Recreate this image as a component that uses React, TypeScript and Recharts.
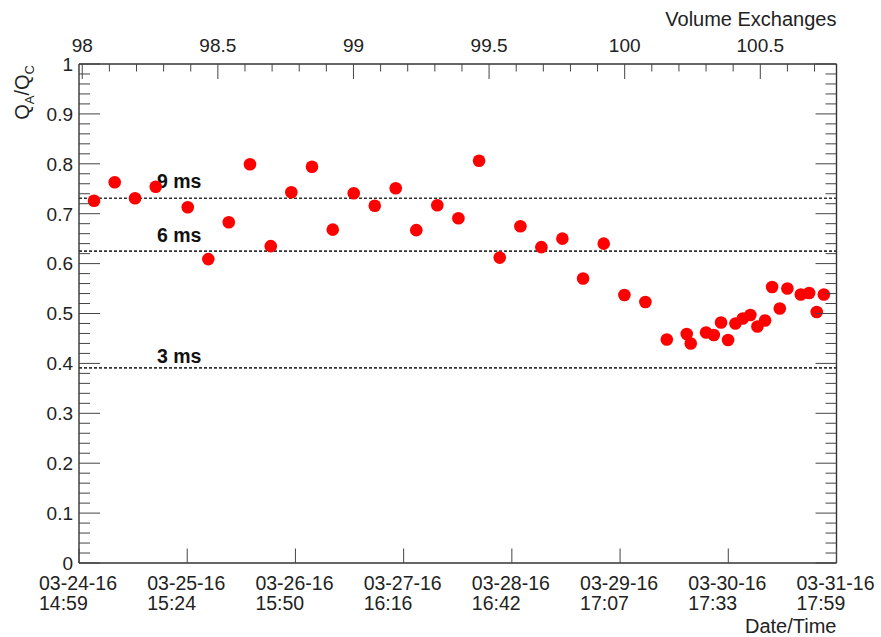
import React from 'react';
import { ScatterChart, Scatter, XAxis, YAxis, ReferenceLine, Label } from 'recharts';

// ---- data ----
// elapsed time in days (of 24h25m43s) since 03-24-16 14:59
const elapsedDays = [
  0.139, 0.330, 0.518, 0.709, 1.005, 1.195, 1.384, 1.580, 1.772, 1.962,
  2.153, 2.345, 2.539, 2.733, 2.927, 3.117, 3.311, 3.506, 3.697, 3.888,
  4.079, 4.273, 4.467, 4.658, 4.849, 5.040, 5.234, 5.432, 5.616, 5.653,
  5.795, 5.866, 5.933, 5.998, 6.066, 6.134, 6.204, 6.269, 6.340, 6.405,
  6.476, 6.546, 6.670, 6.747, 6.817, 6.883,
];
const ratioValues = [
  0.726, 0.763, 0.731, 0.754, 0.713, 0.609, 0.683, 0.799, 0.635, 0.743,
  0.794, 0.668, 0.741, 0.716, 0.751, 0.667, 0.717, 0.691, 0.806, 0.612,
  0.675, 0.633, 0.650, 0.570, 0.640, 0.537, 0.523, 0.448, 0.459, 0.440,
  0.462, 0.457, 0.482, 0.447, 0.480, 0.490, 0.497, 0.474, 0.486, 0.553,
  0.510, 0.550, 0.538, 0.541, 0.503, 0.538,
];

const dateTicks = [0, 1, 2, 3, 4, 5, 6, 7];
const dateLabels = ['03-24-16', '03-25-16', '03-26-16', '03-27-16', '03-28-16', '03-29-16', '03-30-16', '03-31-16'];
const timeLabels = ['14:59', '15:24', '15:50', '16:16', '16:42', '17:07', '17:33', '17:59'];

// volume exchanges at the start and the end of the time axis
const volumeDomain = [97.988, 100.781];
const volumeMajorTicks = [98, 98.5, 99, 99.5, 100, 100.5];
const volumeTickLabels = ['98', '98.5', '99', '99.5', '100', '100.5'];

const ratioMajorTicks = [0, 0.1, 0.2, 0.3, 0.4, 0.5, 0.6, 0.7, 0.8, 0.9, 1];
const ratioTickLabels = ['0', '0.1', '0.2', '0.3', '0.4', '0.5', '0.6', '0.7', '0.8', '0.9', '1'];

const thresholdValues = [0.731, 0.625, 0.391];
const thresholdLabels = ['9 ms', '6 ms', '3 ms'];

// ---- derived ----
const tSpan = dateTicks[dateTicks.length - 1] - dateTicks[0];
const toVolume = (t: number) =>
  volumeDomain[0] + ((t - dateTicks[0]) / tSpan) * (volumeDomain[1] - volumeDomain[0]);
const points = elapsedDays.map((t, i) => ({ t, r: ratioValues[i], v: toVolume(t) }));
const volumeAllTicks: number[] = [];
for (let i = 980; i <= 1007; i++) volumeAllTicks.push(i / 10);
const ratioAllTicks: number[] = [];
for (let i = 0; i <= 50; i++) ratioAllTicks.push(i / 50);

// ---- styles ----
const FONT = '"Liberation Sans", Arial, Helvetica, sans-serif';
const TEXT = '#222';
const FRAME = '#333';
const TICK = '#444';
const labelGap = [10, 9, 5];

const findIndex = (arr: number[], v: number) => arr.findIndex((a) => Math.abs(a - v) < 1e-6);

const LeftTick = (props: any) => {
  const { x, y, payload } = props;
  const idx = findIndex(ratioMajorTicks, payload.value);
  const major = idx >= 0;
  return (
    <g>
      <line x1={x} y1={y} x2={x + (major ? 21 : 11)} y2={y} stroke={TICK} strokeWidth={1} />
      {major && (
        <text x={x - 6} y={y} dy="0.36em" textAnchor="end" fontSize={19} fontFamily={FONT} fill={TEXT}>
          {ratioTickLabels[idx]}
        </text>
      )}
    </g>
  );
};

const RightTick = (props: any) => {
  const { x, y, payload } = props;
  const major = findIndex(ratioMajorTicks, payload.value) >= 0;
  return <line x1={x} y1={y} x2={x - (major ? 21 : 11)} y2={y} stroke={TICK} strokeWidth={1} />;
};

const TopTick = (props: any) => {
  const { x, y, payload } = props;
  const idx = findIndex(volumeMajorTicks, payload.value);
  const major = idx >= 0;
  return (
    <g>
      <line x1={x} y1={y} x2={x} y2={y + (major ? 15 : 7.5)} stroke={TICK} strokeWidth={1} />
      {major && (
        <text x={x} y={y - 12} textAnchor="middle" fontSize={19} fontFamily={FONT} fill={TEXT}>
          {volumeTickLabels[idx]}
        </text>
      )}
    </g>
  );
};

const BottomTick = (props: any) => {
  const { x, y, payload } = props;
  const idx = findIndex(dateTicks, payload.value);
  return (
    <g>
      <line x1={x} y1={y} x2={x} y2={y - 14.5} stroke={TICK} strokeWidth={1} />
      <text x={x - 40} y={y + 27} textAnchor="start" fontSize={19.5} fontFamily={FONT} fill={TEXT}>
        {dateLabels[idx]}
      </text>
      <text x={x - 40} y={y + 47} textAnchor="start" fontSize={19.5} fontFamily={FONT} fill={TEXT}>
        {timeLabels[idx]}
      </text>
    </g>
  );
};

const Dot = (p: any) => <circle cx={p.cx} cy={p.cy} r={6.3} fill="#ff0000" />;
const NoDot = () => <g />;

export default function App() {
  return (
    <div style={{ position: 'absolute', left: 0, top: 0, width: 881, height: 637, background: '#fff' }}>
      <ScatterChart width={881} height={637} margin={{ top: 0, right: 0, bottom: 0, left: 0 }}>
        <XAxis
          xAxisId="bottom"
          dataKey="t"
          type="number"
          orientation="bottom"
          domain={[dateTicks[0], dateTicks[dateTicks.length - 1]]}
          allowDataOverflow
          ticks={dateTicks}
          interval={0}
          height={74}
          tickSize={0}
          tickMargin={0}
          tickLine={false}
          axisLine={{ stroke: FRAME, strokeWidth: 1.4 }}
          tick={<BottomTick />}
        >
          <Label
            content={(p: any) => (
              <text x={p.viewBox.x + p.viewBox.width} y={p.viewBox.y + 70} textAnchor="end" fontSize={20} fontFamily={FONT} fill={TEXT}>
                Date/Time
              </text>
            )}
          />
        </XAxis>
        <XAxis
          xAxisId="top"
          dataKey="v"
          type="number"
          orientation="top"
          domain={volumeDomain}
          allowDataOverflow
          ticks={volumeAllTicks}
          interval={0}
          height={64}
          tickSize={0}
          tickMargin={0}
          tickLine={false}
          axisLine={{ stroke: FRAME, strokeWidth: 1.4 }}
          tick={<TopTick />}
        >
          <Label
            content={(p: any) => (
              <text x={p.viewBox.x + p.viewBox.width} y={26} textAnchor="end" fontSize={20} fontFamily={FONT} fill={TEXT}>
                Volume Exchanges
              </text>
            )}
          />
        </XAxis>
        <YAxis
          yAxisId="left"
          dataKey="r"
          type="number"
          orientation="left"
          domain={[0, 1]}
          allowDataOverflow
          ticks={ratioAllTicks}
          interval={0}
          width={79}
          tickSize={0}
          tickMargin={0}
          tickLine={false}
          axisLine={{ stroke: FRAME, strokeWidth: 1.4 }}
          tick={<LeftTick />}
        >
          <Label
            content={(p: any) => (
              <text
                transform={`translate(${p.viewBox.x + 29},${p.viewBox.y + 1}) rotate(-90)`}
                textAnchor="end"
                fontSize={20}
                fontFamily={FONT}
                fill={TEXT}
              >
                Q<tspan fontSize={13} dy={5}>A</tspan>
                <tspan dy={-5}>/Q</tspan>
                <tspan fontSize={13} dy={5}>C</tspan>
              </text>
            )}
          />
        </YAxis>
        <YAxis
          yAxisId="right"
          dataKey="r"
          type="number"
          orientation="right"
          domain={[0, 1]}
          allowDataOverflow
          ticks={ratioAllTicks}
          interval={0}
          width={44.5}
          tickSize={0}
          tickMargin={0}
          tickLine={false}
          axisLine={{ stroke: FRAME, strokeWidth: 1.4 }}
          tick={<RightTick />}
        />
        {thresholdValues.map((v, i) => (
          <ReferenceLine
            key={thresholdLabels[i]}
            xAxisId="bottom"
            yAxisId="left"
            y={v}
            stroke="#333"
            strokeWidth={1.6}
            strokeDasharray="3 2"
            label={(p: any) => (
              <text
                x={p.viewBox.x + 78}
                y={p.viewBox.y - labelGap[i]}
                fontSize={19.5}
                fontWeight="bold"
                fontFamily={FONT}
                fill="#111"
              >
                {thresholdLabels[i]}
              </text>
            )}
          />
        ))}
        <Scatter
          data={points}
          xAxisId="top"
          yAxisId="right"
          dataKey="r"
          shape={<NoDot />}
          isAnimationActive={false}
        />
        <Scatter
          data={points}
          xAxisId="bottom"
          yAxisId="left"
          dataKey="r"
          shape={<Dot />}
          isAnimationActive={false}
        />
      </ScatterChart>
    </div>
  );
}
